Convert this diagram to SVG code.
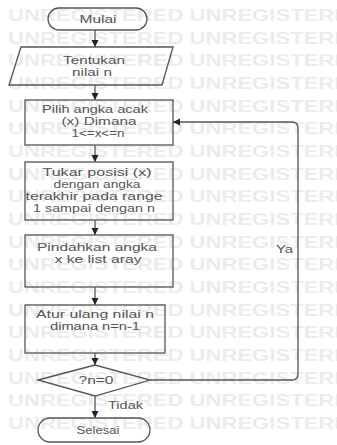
<svg xmlns="http://www.w3.org/2000/svg" width="337" height="445" viewBox="0 0 337 445">
<defs>
<marker id="ah" markerWidth="8" markerHeight="8" refX="7" refY="4" orient="auto" markerUnits="userSpaceOnUse">
<path d="M0,0.5 L7,4 L0,7.5 Z" fill="#222"/>
</marker>
<style>
.wm{font-family:"Liberation Sans",Arial,sans-serif;font-size:16px;font-weight:bold;fill:#ececec}
.shape{fill:none;stroke:#555;stroke-width:1.3}
.t{font-family:"Liberation Sans",Arial,sans-serif;font-size:10px;fill:#555;text-anchor:middle}
.lbl{font-family:"Liberation Sans",Arial,sans-serif;font-size:10px;fill:#555}
.c{fill:none;stroke:#555;stroke-width:1.3}
</style>
</defs>
<rect width="337" height="445" fill="#fff"/>
<g id="watermark">
<text class="wm" x="8" y="21" textLength="357" lengthAdjust="spacingAndGlyphs">UNREGISTERED UNREGISTERED</text>
<text class="wm" x="8" y="44" textLength="357" lengthAdjust="spacingAndGlyphs">UNREGISTERED UNREGISTERED</text>
<text class="wm" x="8" y="66" textLength="357" lengthAdjust="spacingAndGlyphs">UNREGISTERED UNREGISTERED</text>
<text class="wm" x="8" y="89" textLength="357" lengthAdjust="spacingAndGlyphs">UNREGISTERED UNREGISTERED</text>
<text class="wm" x="8" y="112" textLength="357" lengthAdjust="spacingAndGlyphs">UNREGISTERED UNREGISTERED</text>
<text class="wm" x="8" y="134" textLength="357" lengthAdjust="spacingAndGlyphs">UNREGISTERED UNREGISTERED</text>
<text class="wm" x="8" y="157" textLength="357" lengthAdjust="spacingAndGlyphs">UNREGISTERED UNREGISTERED</text>
<text class="wm" x="8" y="180" textLength="357" lengthAdjust="spacingAndGlyphs">UNREGISTERED UNREGISTERED</text>
<text class="wm" x="8" y="202" textLength="357" lengthAdjust="spacingAndGlyphs">UNREGISTERED UNREGISTERED</text>
<text class="wm" x="8" y="225" textLength="357" lengthAdjust="spacingAndGlyphs">UNREGISTERED UNREGISTERED</text>
<text class="wm" x="8" y="248" textLength="357" lengthAdjust="spacingAndGlyphs">UNREGISTERED UNREGISTERED</text>
<text class="wm" x="8" y="270" textLength="357" lengthAdjust="spacingAndGlyphs">UNREGISTERED UNREGISTERED</text>
<text class="wm" x="8" y="293" textLength="357" lengthAdjust="spacingAndGlyphs">UNREGISTERED UNREGISTERED</text>
<text class="wm" x="8" y="316" textLength="357" lengthAdjust="spacingAndGlyphs">UNREGISTERED UNREGISTERED</text>
<text class="wm" x="8" y="338" textLength="357" lengthAdjust="spacingAndGlyphs">UNREGISTERED UNREGISTERED</text>
<text class="wm" x="8" y="361" textLength="357" lengthAdjust="spacingAndGlyphs">UNREGISTERED UNREGISTERED</text>
<text class="wm" x="8" y="384" textLength="357" lengthAdjust="spacingAndGlyphs">UNREGISTERED UNREGISTERED</text>
<text class="wm" x="8" y="406" textLength="357" lengthAdjust="spacingAndGlyphs">UNREGISTERED UNREGISTERED</text>
<text class="wm" x="8" y="429" textLength="357" lengthAdjust="spacingAndGlyphs">UNREGISTERED UNREGISTERED</text>
</g>
<g id="connectors">
<line class="c" x1="95" y1="30" x2="95" y2="47" marker-end="url(#ah)"/>
<line class="c" x1="95" y1="85" x2="95" y2="100" marker-end="url(#ah)"/>
<line class="c" x1="95" y1="145" x2="95" y2="162" marker-end="url(#ah)"/>
<line class="c" x1="95" y1="220" x2="95" y2="235" marker-end="url(#ah)"/>
<line class="c" x1="95" y1="287" x2="95" y2="305" marker-end="url(#ah)"/>
<line class="c" x1="95" y1="353" x2="95" y2="365" marker-end="url(#ah)"/>
<line class="c" x1="95" y1="396" x2="95" y2="418" marker-end="url(#ah)"/>
<path class="c" d="M150,380 H292 Q298,380 298,374 V128 Q298,122 292,122 H173" marker-end="url(#ah)"/>
<text class="lbl" x="108" y="409" textLength="35" lengthAdjust="spacingAndGlyphs">Tidak</text>
<text class="lbl" x="276" y="253" textLength="17" lengthAdjust="spacingAndGlyphs">Ya</text>
</g>
<g id="mulai">
<rect class="shape" x="48" y="8" width="99" height="22" rx="11"/>
<text class="t" x="98" y="23" textLength="37" lengthAdjust="spacingAndGlyphs">Mulai</text>
</g>
<g id="input-n">
<polygon class="shape" points="21,47 173,47 162,85 9,85"/>
<text class="t" x="94" y="64" textLength="62" lengthAdjust="spacingAndGlyphs">Tentukan</text>
<text class="t" x="92" y="76" textLength="40" lengthAdjust="spacingAndGlyphs">nilai n</text>
</g>
<g id="pilih">
<rect class="shape" x="25" y="100" width="148" height="45"/>
<text class="t" x="95" y="113" textLength="106" lengthAdjust="spacingAndGlyphs">Pilih angka acak</text>
<text class="t" x="99" y="125" textLength="75" lengthAdjust="spacingAndGlyphs">(x) Dimana</text>
<text class="t" x="98" y="137" textLength="53" lengthAdjust="spacingAndGlyphs">1&lt;=x&lt;=n</text>
</g>
<g id="tukar">
<rect class="shape" x="25" y="162" width="148" height="58"/>
<text class="t" x="97" y="176" textLength="109" lengthAdjust="spacingAndGlyphs">Tukar posisi (x)</text>
<text class="t" x="97" y="188" textLength="87" lengthAdjust="spacingAndGlyphs">dengan angka</text>
<text class="t" x="94" y="200" textLength="137" lengthAdjust="spacingAndGlyphs">terakhir pada range</text>
<text class="t" x="94" y="212" textLength="122" lengthAdjust="spacingAndGlyphs">1 sampai dengan n</text>
</g>
<g id="pindahkan">
<rect class="shape" x="25" y="235" width="148" height="52"/>
<text class="t" x="97" y="251" textLength="120" lengthAdjust="spacingAndGlyphs">Pindahkan angka</text>
<text class="t" x="98" y="263" textLength="87" lengthAdjust="spacingAndGlyphs">x ke list aray</text>
</g>
<g id="atur">
<rect class="shape" x="25" y="305" width="140" height="48"/>
<text class="t" x="95" y="318" textLength="118" lengthAdjust="spacingAndGlyphs">Atur ulang nilai n</text>
<text class="t" x="95" y="330" textLength="90" lengthAdjust="spacingAndGlyphs">dimana n=n-1</text>
</g>
<g id="decision">
<polygon class="shape" points="38,380 95,365 150,380 95,396"/>
<text class="t" x="96" y="384" textLength="35" lengthAdjust="spacingAndGlyphs">?n=0</text>
</g>
<g id="selesai">
<rect class="shape" x="38" y="418" width="112" height="24" rx="12"/>
<text class="t" x="98" y="434" textLength="43" lengthAdjust="spacingAndGlyphs">Selesai</text>
</g>
</svg>
